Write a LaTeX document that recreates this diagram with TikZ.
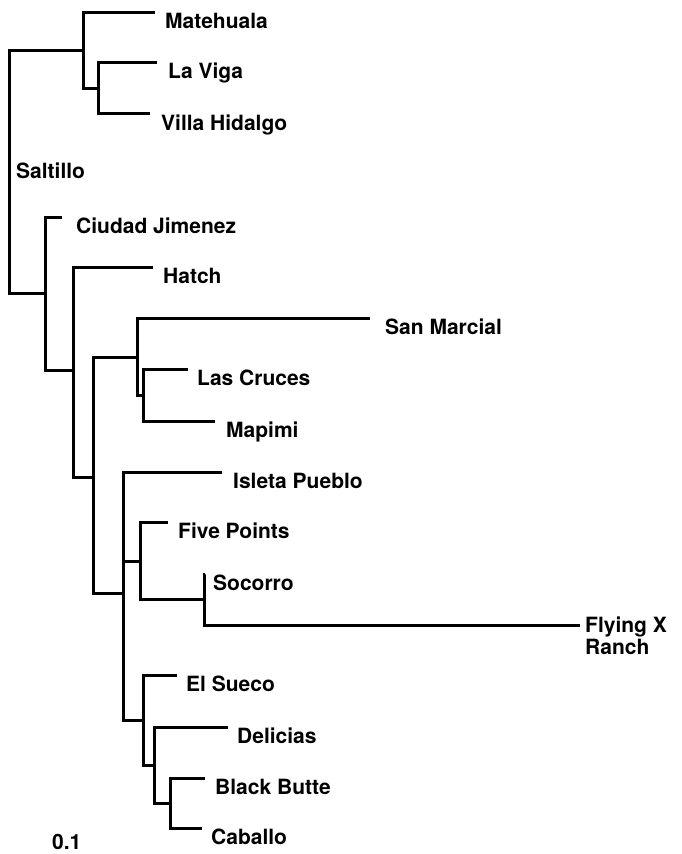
\documentclass[tikz,border=0pt]{standalone}
\usepackage{fontspec}
\setmainfont{TeX Gyre Heros}

\begin{document}
\begin{tikzpicture}[x=1pt, y=-1pt,
        branch/.style={line width=3pt},
        taxon/.style={anchor=base west, inner sep=0pt, font=\bfseries\fontsize{21}{22}\selectfont}]
        \useasboundingbox (0,0) rectangle (681,854);
        % internal vertices of the tree
        \coordinate (root) at (9,172);
        \coordinate (cA) at (83,50);
        \coordinate (cB) at (98,88);
        \coordinate (cC) at (45,293);
        \coordinate (cD) at (73,370);
        \coordinate (cE) at (93,477);
        \coordinate (cF) at (137,357);
        \coordinate (cG) at (143,395);
        \coordinate (cH) at (123,593);
        \coordinate (cI) at (140,561);
        \coordinate (cJ) at (204,599);
        \coordinate (cK) at (143,720);
        \coordinate (cL) at (154,765);
        \coordinate (cM) at (170,803);
        % tips
        \coordinate (tMat) at (155,12);
        \coordinate (tVig) at (157,62);
        \coordinate (tVil) at (150,113);
        \coordinate (tCiu) at (62,217);
        \coordinate (tHat) at (153,267);
        \coordinate (tSan) at (370,318);
        \coordinate (tCru) at (188,369);
        \coordinate (tMap) at (215,421);
        \coordinate (tIsl) at (222,472);
        \coordinate (tFiv) at (168,522);
        \coordinate (tSoc) at (205,574);
        \coordinate (tFly) at (580,625);
        \coordinate (tSue) at (177,675);
        \coordinate (tDel) at (228,727);
        \coordinate (tBla) at (205,778);
        \coordinate (tCab) at (202,828);

        \begin{scope}[every path/.style={branch}]
                \draw (root) |- (cA);
                \draw (root) |- (cC);
                \draw (cA) |- (tMat);
                \draw (cA) |- (cB);
                \draw (cB) |- (tVig);
                \draw (cB) |- (tVil);
                \draw (cC) |- (tCiu);
                \draw (cC) |- (cD);
                \draw (cD) |- (tHat);
                \draw (cD) |- (cE);
                \draw (cE) |- (cF);
                \draw (cE) |- (cH);
                \draw (cF) |- (tSan);
                \draw (cF) |- (cG);
                \draw (cG) |- (tCru);
                \draw (cG) |- (tMap);
                \draw (cH) |- (tIsl);
                \draw (cH) |- (cI);
                \draw (cH) |- (cK);
                \draw (cI) |- (tFiv);
                \draw (cI) |- (cJ);
                \draw (cJ) |- (tSoc);
                \draw (cJ) |- (tFly);
                \draw (cK) |- (tSue);
                \draw (cK) |- (cL);
                \draw (cL) |- (tDel);
                \draw (cL) |- (cM);
                \draw (cM) |- (tBla);
                \draw (cM) |- (tCab);
        \end{scope}

        \node[taxon] (Mat) at (165,28) {Matehuala};
        \node[taxon] (Vig) at (168,78) {La Viga};
        \node[taxon] (Vil) at (161,130) {Villa Hidalgo};
        \node[taxon] (Sal) at (16,178) {Saltillo};
        \node[taxon] (Ciu) at (76,233) {Ciudad Jimenez};
        \node[taxon] (Hat) at (163,283) {Hatch};
        \node[taxon] (San) at (385,334) {San Marcial};
        \node[taxon] (Cru) at (197,385) {Las Cruces};
        \node[taxon] (Map) at (226,437) {Mapimi};
        \node[taxon] (Isl) at (233,488) {Isleta Pueblo};
        \node[taxon] (Fiv) at (178,538) {Five Points};
        \node[taxon] (Soc) at (213,590) {Socorro};
        \node[taxon, anchor=west, align=left] (Fly) at (585,636) {Flying X\\Ranch};
        \node[taxon] (Sue) at (186,691) {El Sueco};
        \node[taxon] (Del) at (237,743) {Delicias};
        \node[taxon] (Bla) at (215,794) {Black Butte};
        \node[taxon] (Cab) at (211,844) {Caballo};
        \node[taxon] (scale) at (52,849) {0.1};
\end{tikzpicture}
\end{document}
